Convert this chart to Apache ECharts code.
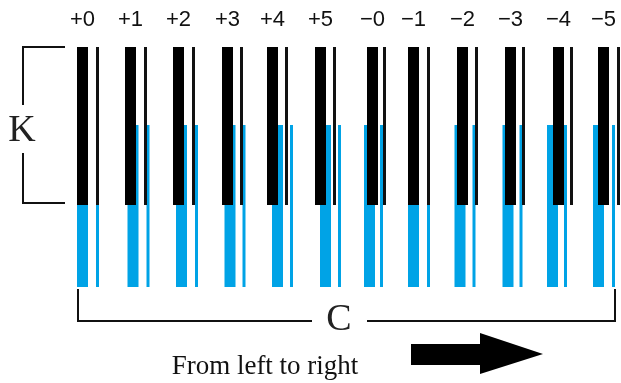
<!DOCTYPE html>
<html>
<head>
<meta charset="utf-8">
<script src="https://cdn.jsdelivr.net/npm/echarts@6/dist/echarts.min.js"></script>
<style>
  html, body { margin: 0; padding: 0; background: #fff; }
  #chart { width: 621px; height: 383px; }
</style>
</head>
<body>
<div id="chart"></div>
<script>
// tick labels over each pattern
const labels = ['+0', '+1', '+2', '+3', '+4', '+5', '\u22120', '\u22121', '\u22122', '\u22123', '\u22124', '\u22125'];
// left edge of the thick black line of each pattern
const barX = [77, 125, 173, 222, 267, 315, 367, 408, 457, 505, 553, 598];
// gap from thick line to thin line
const thinGap = [19, 19, 19, 18, 18, 18, 16, 19, 18, 17, 17, 19];
// shift of the cyan lines against the black ones
const cyanShift = [0, 2.5, 3, 2.5, 5, 5, -3, 0, -2.5, -2.5, -6, -5];

const blackTop = 47, blackBottom = 205;
const cyanTop = 125, cyanBottom = 287;
const thickW = 11, thinW = 3;
const CYAN = '#00a3e6';

const chart = echarts.init(document.getElementById('chart'));

function renderItem(params, api) {
  const x = api.value(0), gap = api.value(1), shift = api.value(2);
  const rect = (x0, y0, w, y1, color) => {
    const a = api.coord([x0, y0]);
    const b = api.coord([x0 + w, y1]);
    return {
      type: 'rect',
      shape: { x: a[0], y: a[1], width: b[0] - a[0], height: b[1] - a[1] },
      style: { fill: color }
    };
  };
  const lp = api.coord([x + thickW / 2, 20]);
  return {
    type: 'group',
    children: [
      rect(x + shift, cyanTop, thickW, cyanBottom, CYAN),
      rect(x + gap + shift, cyanTop, thinW, cyanBottom, CYAN),
      rect(x, blackTop, thickW, blackBottom, '#000'),
      rect(x + gap, blackTop, thinW, blackBottom, '#111'),
      {
        type: 'text',
        style: {
          x: lp[0], y: lp[1], text: labels[params.dataIndex],
          align: 'center', verticalAlign: 'middle',
          font: '22px "Liberation Sans", Arial, sans-serif', fill: '#111'
        }
      }
    ]
  };
}

const line = { stroke: '#111', lineWidth: 2, fill: null };

chart.setOption({
  animation: false,
  backgroundColor: '#fff',
  grid: { left: 0, right: 0, top: 0, bottom: 0 },
  xAxis: { type: 'value', min: 0, max: 621, show: false },
  yAxis: { type: 'value', min: 0, max: 383, inverse: true, show: false },
  series: [{
    type: 'custom',
    renderItem: renderItem,
    data: barX.map((x, i) => [x, thinGap[i], cyanShift[i]])
  }],
  graphic: [
    // K bracket
    { type: 'polyline', shape: { points: [[65, 47], [23, 47], [23, 105]] }, style: line },
    { type: 'polyline', shape: { points: [[23, 153], [23, 203], [65, 203]] }, style: line },
    { type: 'text', style: { x: 22, y: 131, text: 'K', align: 'center', verticalAlign: 'middle',
        font: '38px "Liberation Serif", "Times New Roman", serif', fill: '#222' } },
    // C bracket
    { type: 'polyline', shape: { points: [[78, 289], [78, 321], [312, 321]] }, style: line },
    { type: 'polyline', shape: { points: [[367, 321], [615, 321], [615, 289]] }, style: line },
    { type: 'text', style: { x: 339, y: 320, text: 'C', align: 'center', verticalAlign: 'middle',
        font: '38px "Liberation Serif", "Times New Roman", serif', fill: '#222' } },
    // caption and arrow
    { type: 'text', style: { x: 265, y: 367, text: 'From left to right', align: 'center', verticalAlign: 'middle',
        font: '27px "Liberation Serif", "Times New Roman", serif', fill: '#111' } },
    { type: 'polygon', shape: { points: [[411, 344], [480, 344], [480, 333], [543, 354], [480, 374], [480, 365], [411, 365]] },
      style: { fill: '#000' } }
  ]
});
</script>
</body>
</html>
